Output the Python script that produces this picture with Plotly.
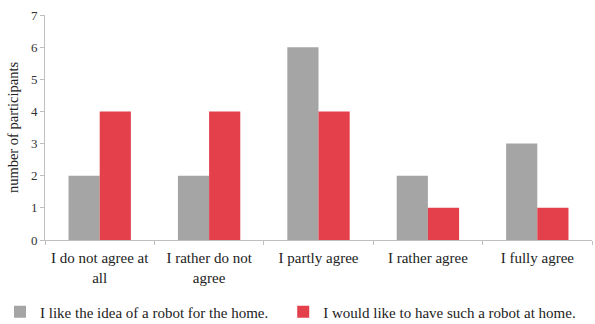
import plotly.graph_objects as go

categories = ["I do not agree at<br>all", "I rather do not<br>agree", "I partly agree", "I rather agree", "I fully agree"]
series1_name = "I like the idea of a robot for the home."
series1 = [2, 2, 6, 2, 3]
series2_name = "I would like to have such a robot at home."
series2 = [4, 4, 4, 1, 1]
y_ticks = [0, 1, 2, 3, 4, 5, 6, 7]

font_family = "Liberation Serif, Times New Roman, serif"

fig = go.Figure()
fig.add_trace(go.Bar(x=categories, y=series1, name=series1_name, legend="legend",
                     marker=dict(color="#a5a5a5", line=dict(width=0))))
fig.add_trace(go.Bar(x=categories, y=series2, name=series2_name, legend="legend2",
                     marker=dict(color="#e3404b", line=dict(width=0))))

leg_common = dict(orientation="h", yanchor="middle", y=0.037, xref="container", yref="container",
                  font=dict(size=15, family=font_family, color="#222222"),
                  itemwidth=30, bgcolor="rgba(0,0,0,0)")

fig.update_layout(
    width=595, height=324,
    margin=dict(l=45, r=3, t=15, b=84),
    paper_bgcolor="white", plot_bgcolor="white",
    barmode="group", bargap=0.43, bargroupgap=0,
    font=dict(family=font_family, size=12, color="#222222"),
    showlegend=True,
    legend=dict(x=0.0, xanchor="left", **leg_common),
    legend2=dict(x=0.476, xanchor="left", **leg_common),
)
fig.update_xaxes(showline=True, linecolor="#bfbfbf", linewidth=1,
                 ticks="outside", tickson="boundaries", ticklen=4, tickcolor="#bfbfbf",
                 tickfont=dict(size=15), ticklabelstandoff=4, showgrid=False)
fig.update_yaxes(range=[0, 7], tickvals=y_ticks, showline=True, linecolor="#bfbfbf", linewidth=1,
                 ticks="outside", ticklen=4, tickcolor="#bfbfbf", showgrid=False, zeroline=False,
                 tickfont=dict(size=13, color="#333333"),
                 title=dict(text="number of participants", font=dict(size=14.5), standoff=8))

fig.write_html("out.html")
